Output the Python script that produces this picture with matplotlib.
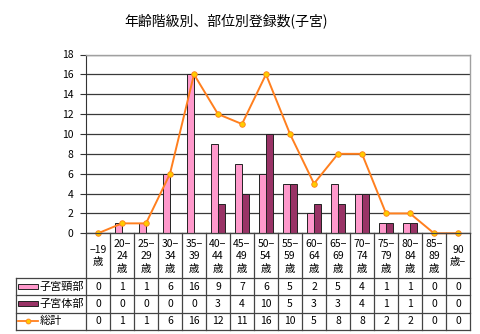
import matplotlib.pyplot as plt
from matplotlib.patches import Rectangle
from matplotlib.lines import Line2D
import numpy as np

plt.rcParams['font.family'] = ['Noto Sans CJK JP', 'DejaVu Sans']

# data
age_labels = ["−19\n歳", "20−\n24\n歳", "25−\n29\n歳", "30−\n34\n歳", "35−\n39\n歳",
              "40−\n44\n歳", "45−\n49\n歳", "50−\n54\n歳", "55−\n59\n歳", "60−\n64\n歳",
              "65−\n69\n歳", "70−\n74\n歳", "75−\n79\n歳", "80−\n84\n歳", "85−\n89\n歳",
              "90\n歳−"]
cervix = [0, 1, 1, 6, 16, 9, 7, 6, 5, 2, 5, 4, 1, 1, 0, 0]
corpus = [0, 0, 0, 0, 0, 3, 4, 10, 5, 3, 3, 4, 1, 1, 0, 0]
total = [0, 1, 1, 6, 16, 12, 11, 16, 10, 5, 8, 8, 2, 2, 0, 0]
series_names = ["子宮頸部", "子宮体部", "総計"]
title = "年齢階級別、部位別登録数(子宮)"

PINK = "#FF99CC"
PURPLE = "#993366"
ORANGE = "#FF7F1E"
MARK = "#FFCC00"

W, H = 480, 334
fig = plt.figure(figsize=(W / 100, H / 100), dpi=100)

px_left, px_right = 86, 470
px_top, px_bot = 54.5, 233.3
ax = fig.add_axes([px_left / W, 1 - px_bot / H, (px_right - px_left) / W, (px_bot - px_top) / H])

n = len(cervix)
x = np.arange(n)
bw = 0.29
ax.bar(x - bw / 2, cervix, bw, color=PINK, edgecolor="#222222", linewidth=0.7, zorder=3)
ax.bar(x + bw / 2, corpus, bw, color=PURPLE, edgecolor="#222222", linewidth=0.7, zorder=3)
ax.plot(x, total, color=ORANGE, linewidth=1.4, marker="o", markersize=4,
        markerfacecolor=MARK, markeredgecolor=ORANGE, markeredgewidth=0.6, zorder=4,
        clip_on=False)

ax.set_xlim(-0.5, n - 0.5)
ax.set_ylim(0, 18)
ax.set_yticks(range(0, 19, 2))
ax.set_xticks([])
ax.grid(axis="y", color="#3a3a3a", linewidth=0.9, zorder=0)
ax.set_axisbelow(True)
for s in ["top", "right"]:
    ax.spines[s].set_color("#a0a0a0")
    ax.spines[s].set_linewidth(1.0)
ax.spines["left"].set_color("#333333")
ax.spines["bottom"].set_color("#333333")
ax.tick_params(axis="y", labelsize=7.5, length=4, width=0.8, color="#333333", pad=5)
ax.tick_params(axis="x", length=0)

fig.text(226 / W, 1 - 21 / H, title, ha="center", va="center", fontsize=10)

# data table
tab_left, tab_right = 16, 470
tab_top, tab_bot = 233.3, 330
tx = fig.add_axes([tab_left / W, 1 - tab_bot / H, (tab_right - tab_left) / W, (tab_bot - tab_top) / H])
cat_w = (px_right - px_left) / n
xl = -0.5 - (px_left - tab_left) / cat_w
tx.set_xlim(xl, n - 0.5)
row_px = [233.3, 278, 295, 312.5, 330]
tx.set_ylim(tab_bot, tab_top)
tx.axis("off")

lc = "#444444"
lw = 0.9
# vertical lines between categories
for i in range(n + 1):
    tx.plot([i - 0.5, i - 0.5], [row_px[0], row_px[-1]], color=lc, lw=lw, clip_on=False)
# horizontal lines
tx.plot([-0.5, n - 0.5], [row_px[0], row_px[0]], color=lc, lw=lw, clip_on=False)
for y in row_px[1:]:
    tx.plot([xl, n - 0.5], [y, y], color=lc, lw=lw, clip_on=False)
tx.plot([xl, xl], [row_px[1], row_px[-1]], color=lc, lw=lw, clip_on=False)

for i, lab in enumerate(age_labels):
    tx.text(i, (row_px[0] + row_px[1]) / 2 + 0.5, lab, ha="center", va="center",
            fontsize=7.5, linespacing=1.3)

rows = [cervix, corpus, total]
for r, vals in enumerate(rows):
    yc = (row_px[r + 1] + row_px[r + 2]) / 2
    for i, v in enumerate(vals):
        tx.text(i, yc, str(v), ha="center", va="center", fontsize=7.5)

# legend keys in table
k0 = xl + 2 / cat_w
k1 = xl + 22 / cat_w
for r, name in enumerate(series_names):
    yc = (row_px[r + 1] + row_px[r + 2]) / 2
    if r < 2:
        col = PINK if r == 0 else PURPLE
        tx.add_patch(Rectangle((k0, yc - 2.5), k1 - k0, 5, facecolor=col,
                               edgecolor="#222222", linewidth=0.7, clip_on=False))
    else:
        tx.add_line(Line2D([k0, k1], [yc, yc], color=ORANGE, lw=1.3, clip_on=False))
        tx.plot([(k0 + k1) / 2], [yc], marker="o", markersize=3.5, markerfacecolor=MARK,
                markeredgecolor=ORANGE, markeredgewidth=0.6, clip_on=False)
    tx.text(k1 + 1.5 / cat_w, yc, name, ha="left", va="center", fontsize=8)

fig.savefig("out.png", dpi=100)
